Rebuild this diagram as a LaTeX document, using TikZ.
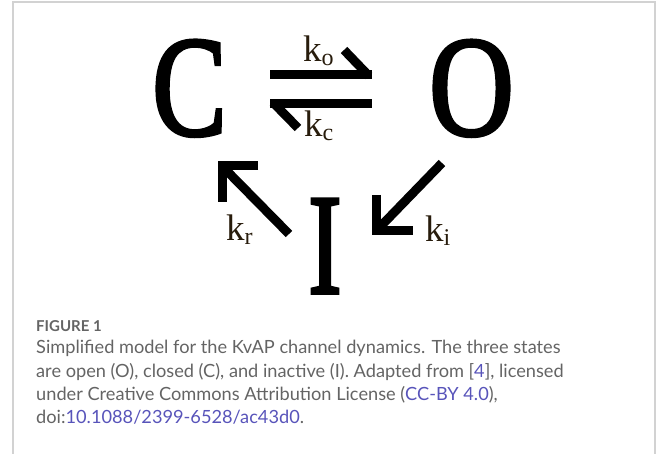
\documentclass[tikz,border=0pt]{standalone}
\usepackage{fontspec}
\setmainfont{Liberation Serif}
\newfontfamily\bigserif[FakeBold=2.6]{Liberation Serif}
\newfontfamily\capfont{Lato}
\definecolor{kcol}{RGB}{40,28,12}
\definecolor{capgray}{RGB}{100,100,100}
\definecolor{linkcol}{RGB}{88,84,186}
\definecolor{framegray}{RGB}{210,210,210}
\newcommand\ksub[1]{k\raisebox{-4pt}{\fontsize{24}{24}\selectfont #1}}
\newcommand\lnk[1]{\textcolor{linkcol}{#1}}
\begin{document}
\begin{tikzpicture}[x=1pt,y=-1pt,
  big/.style={inner sep=0pt, anchor=base, font=\bigserif\fontsize{143}{143}\selectfont},
  klab/.style={inner sep=0pt, anchor=base west, text=kcol, font=\fontsize{37}{37}\selectfont},
  arr/.style={line width=9pt, line cap=butt, line join=miter},
  caphead/.style={inner sep=0pt, anchor=base west, text=capgray, font=\capfont\bfseries\fontsize{15}{15}\selectfont},
  capline/.style={inner sep=0pt, anchor=base west, text=capgray, font=\capfont\fontsize{18.2}{18.2}\selectfont}]
\useasboundingbox (0,0) rectangle (656,454);
\draw[framegray, line width=1.5pt] (13,454) -- (13,2) -- (655,2) -- (655,454);
% states
\node[big] (C) at (189.5,135) {\scalebox{0.78}[1]{C}};
\node[big] (O) at (471.5,135) {\scalebox{0.82}[1]{O}};
\node[big] (I) at (325,293) {\scalebox{0.7}[1]{I}};
% harpoons
\coordinate (h1a) at (270,75);   \coordinate (h1b) at (372,75);
\coordinate (b1a) at (369,76);   \coordinate (b1b) at (344,50);
\coordinate (h2a) at (270,103.5); \coordinate (h2b) at (372,103.5);
\coordinate (b2a) at (273,102.5); \coordinate (b2b) at (298,128);
\draw[arr] (h1a) -- (h1b);
\draw[arr] (b1a) -- (b1b);
\draw[arr] (h2a) -- (h2b);
\draw[arr] (b2a) -- (b2b);
% I -> C arrow
\coordinate (lh1) at (258,166); \coordinate (lh2) at (222,166); \coordinate (lh3) at (222,202);
\coordinate (ls1) at (289,234); \coordinate (ls2) at (224,168);
\draw[arr] (lh1) -- (lh2) -- (lh3);
\draw[arr] (ls1) -- (ls2);
% O -> I arrow
\coordinate (rh1) at (376,195); \coordinate (rh2) at (376,231); \coordinate (rh3) at (413,231);
\coordinate (rs1) at (442,163); \coordinate (rs2) at (379,228);
\draw[arr] (rh1) -- (rh2) -- (rh3);
\draw[arr] (rs1) -- (rs2);
% rate labels
\node[klab] (ko) at (303,62) {\ksub{o}};
\node[klab] (kc) at (304,137) {\ksub{c}};
\node[klab] (kr) at (226,241) {\ksub{r}};
\node[klab] (ki) at (425,242) {\ksub{i}};
% caption
\node[caphead] (fig) at (36,331) {FIGURE 1};
\node[capline] (c1) at (36,353) {Simplified model for the KvAP channel dynamics. The three states};
\node[capline] (c2) at (36,377) {are open (O), closed (C), and inactive (I). Adapted from [\lnk{4}], licensed};
\node[capline] (c3) at (36,400) {under Creative Commons Attribution License (\lnk{CC-BY 4.0}),};
\node[capline] (c4) at (36,423) {doi:\lnk{10.1088/2399-6528/ac43d0}.};
\end{tikzpicture}
\end{document}
